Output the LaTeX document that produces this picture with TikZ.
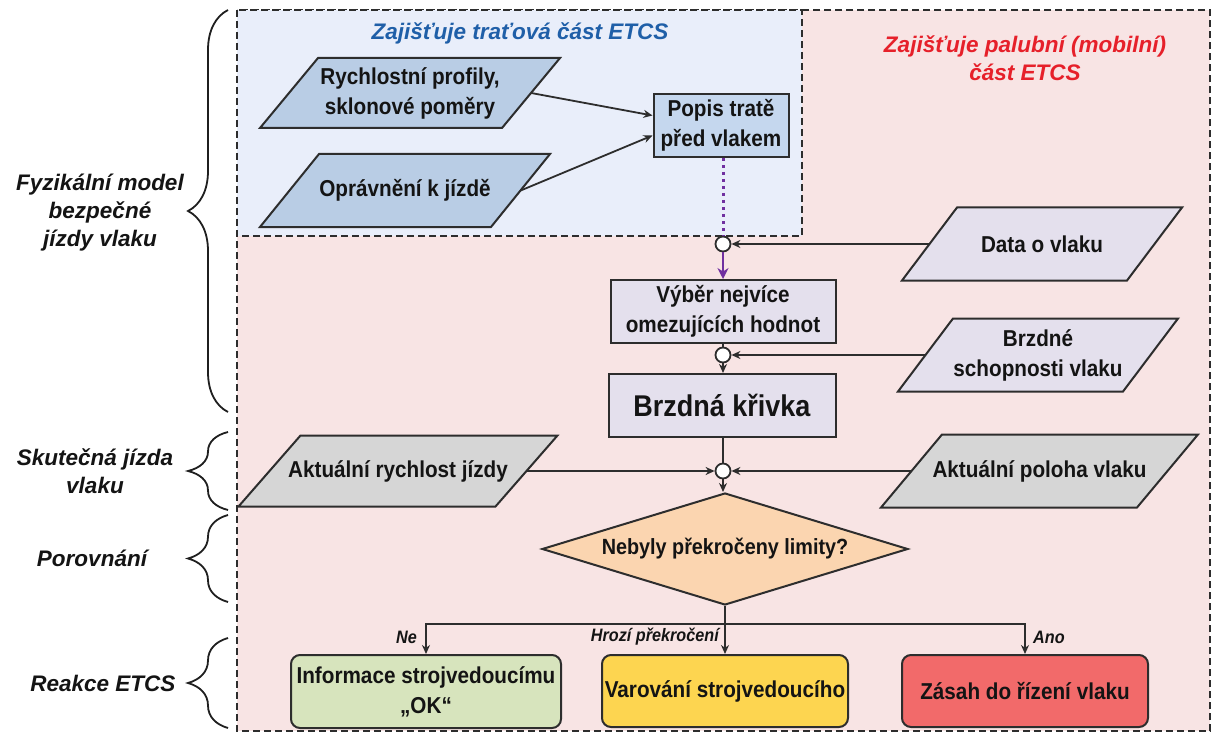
\documentclass[tikz,border=0pt]{standalone}
\usepackage{fontspec}
\setmainfont{Liberation Sans}
\newfontfamily\narrowsans[FakeStretch=0.9]{Liberation Sans}
\usetikzlibrary{shapes.geometric,arrows.meta,decorations.pathreplacing,calc}

\definecolor{onboardbg}{RGB}{248,228,228}
\definecolor{tracksidebg}{RGB}{233,238,250}
\definecolor{trackpar}{RGB}{185,205,229}
\definecolor{trackbox}{RGB}{197,215,238}
\definecolor{lavender}{RGB}{228,224,237}
\definecolor{graypar}{RGB}{214,214,214}
\definecolor{peach}{RGB}{251,213,176}
\definecolor{okgreen}{RGB}{215,228,189}
\definecolor{warnyellow}{RGB}{253,213,80}
\definecolor{stopred}{RGB}{242,106,106}
\definecolor{trackblue}{RGB}{31,95,168}
\definecolor{onboardred}{RGB}{230,32,42}
\definecolor{linegray}{RGB}{45,45,45}
\definecolor{flowpurple}{RGB}{112,48,160}

\newcommand{\nodetext}{\narrowsans\bfseries\fontsize{23}{30}\selectfont}
\newcommand{\bigtext}{\narrowsans\bfseries\fontsize{30}{36}\selectfont}
\newcommand{\sidetext}{\bfseries\itshape\fontsize{22.5}{28}\selectfont}
\newcommand{\branchtext}{\narrowsans\bfseries\itshape\fontsize{18}{22}\selectfont}

% data item: slanted box (parallelogram) with a named text node in its middle
% #1 name, #2 centre x, #3 centre y, #4 mid width, #5 height, #6 slant, #7 fill, #8 text
\newcommand{\dataitem}[8]{%
  \draw[draw=linegray,line width=2pt,fill=#7,line join=miter]
    ({#2-#4/2+#6/2},{#3-#5/2}) -- ({#2+#4/2+#6/2},{#3-#5/2}) --
    ({#2+#4/2-#6/2},{#3+#5/2}) -- ({#2-#4/2-#6/2},{#3+#5/2}) -- cycle;
  \node[datatext,minimum width=#4 pt,minimum height=#5 pt] (#1) at (#2,#3) {#8};}

\begin{document}
\begin{tikzpicture}[x=1pt,y=-1pt,
  zoneframe/.style={draw=linegray,line width=2.2pt,dash pattern=on 7pt off 4pt},
  datatext/.style={rectangle,inner sep=0pt,align=center,font=\nodetext,text=black!92},
  procbox/.style={rectangle,draw=linegray,line width=2pt,inner sep=0pt,
    align=center,font=\nodetext,text=black!92},
  reactbox/.style={procbox,rounded corners=9pt},
  junction/.style={circle,draw=linegray,line width=1.8pt,fill=white,
    minimum size=15pt,inner sep=0pt},
  conn/.style={draw=linegray,line width=1.8pt,-{Stealth[length=9pt,width=8pt]}},
  plainconn/.style={draw=linegray,line width=1.8pt},
  sidelabel/.style={align=center,font=\sidetext,text=black!92},
  branchlabel/.style={font=\branchtext,text=black!92,inner sep=1pt},
  zonetitle/.style={align=center,font=\sidetext},
  sidebrace/.style={draw=black!88,line width=1.8pt,
    decorate,decoration={brace,amplitude=40pt}}
]
\useasboundingbox (0,0) rectangle (1219,733);
\fill[white] (0,0) rectangle (1219,733);

% zones: on-board part (whole frame) and trackside part (upper left)
\draw[zoneframe,fill=onboardbg] (237,10) rectangle (1210,731);
\draw[zoneframe,fill=tracksidebg] (237,10) rectangle (802,236);

\node[zonetitle,text=trackblue] (tracktitle) at (520,33) {Zajišťuje traťová část ETCS};
\node[zonetitle,text=onboardred] (boardtitle) at (1025,58) {Zajišťuje palubní (mobilní)\\část ETCS};

% trackside inputs
\dataitem{profiles}{410}{93}{242}{70}{58}{trackpar}{Rychlostní profily,\\sklonové poměry}
\dataitem{authority}{405}{190.5}{231}{73}{59}{trackpar}{Oprávnění k jízdě}
\node[procbox,fill=trackbox,minimum width=135pt,minimum height=63pt] (track) at (721,125.5) {Popis tratě\\před vlakem};

% on-board chain
\node[junction] (j1) at (723,244) {};
\dataitem{traindata}{1042}{244}{225}{73}{55}{lavender}{Data o vlaku}
\node[procbox,fill=lavender,minimum width=225pt,minimum height=63pt] (select) at (723,311.5) {Výběr nejvíce\\omezujících hodnot};
\node[junction] (j2) at (723,355) {};
\dataitem{braking}{1038}{355}{225}{73}{55}{lavender}{Brzdné\\schopnosti vlaku}
\node[procbox,fill=lavender,minimum width=227pt,minimum height=63pt,font=\bigtext] (curve) at (722,405.5) {Brzdná křivka};

% actual run
\node[junction] (j3) at (723,471) {};
\dataitem{speed}{398}{471}{257}{71}{62}{graypar}{Aktuální rychlost jízdy}
\dataitem{position}{1039.5}{471}{256}{73}{61}{graypar}{Aktuální poloha vlaku}

% comparison
\node[diamond,aspect=3.27,draw=linegray,line width=2pt,fill=peach,inner sep=0pt,
  minimum width=366pt,minimum height=112pt,text=black!92,
  font=\narrowsans\bfseries\fontsize{22}{26}\selectfont] (check) at (725,549) {Nebyly překročeny limity?};

% reactions
\node[reactbox,fill=okgreen,minimum width=270pt,minimum height=73pt] (okbox) at (426,691.5) {Informace strojvedoucímu\\„OK“};
\node[reactbox,fill=warnyellow,minimum width=246pt,minimum height=72pt] (warnbox) at (725,691) {Varování strojvedoucího};
\node[reactbox,fill=stopred,minimum width=246pt,minimum height=72pt] (stopbox) at (1025,691) {Zásah do řízení vlaku};

% connectors
\draw[conn] (profiles.east) -- ([yshift=10pt]track.west);
\draw[conn] (authority.east) -- ([yshift=-10pt]track.west);
\draw[draw=flowpurple,line width=3pt,dash pattern=on 3pt off 4pt] (track.south -| j1) -- (j1.north);
\draw[draw=flowpurple,line width=1.8pt,-{Stealth[length=11pt,width=11pt]}] (j1.south) -- (select.north -| j1);
\draw[conn] (traindata.west) -- (j1.east);
\draw[plainconn] (select.south -| j2) -- (j2.north);
\draw[conn] (j2.south) -- (curve.north -| j2);
\draw[conn] (braking.west) -- (j2.east);
\draw[plainconn] (curve.south -| j3) -- (j3.north);
\draw[conn] (speed.east) -- (j3.west);
\draw[conn] (position.west) -- (j3.east);
\draw[conn] (j3.south) -- (check.north -| j3);

\coordinate (split) at (725,624);
\draw[conn] (check.south) -- (warnbox.north);
\draw[conn] (split) -| (okbox.north);
\draw[conn] (split) -| (stopbox.north);

\node[branchlabel,anchor=east] (no) at (418,637) {Ne};
\node[branchlabel,anchor=east] (risk) at (720,637) {Hrozí překročení};
\node[branchlabel,anchor=west] (yes) at (1032,637) {Ano};

% stage braces and labels
\draw[sidebrace] (228,412) -- (228,10);
\draw[sidebrace] (228,510) -- (228,432);
\draw[sidebrace] (228,602) -- (228,515);
\draw[sidebrace] (228,728) -- (228,638);

\node[sidelabel] (stage1) at (100,213) {Fyzikální model\\bezpečné\\jízdy vlaku};
\node[sidelabel] (stage2) at (95,471) {Skutečná jízda\\vlaku};
\node[sidelabel] (stage3) at (92,558) {Porovnání};
\node[sidelabel] (stage4) at (103,683) {Reakce ETCS};
\end{tikzpicture}
\end{document}
